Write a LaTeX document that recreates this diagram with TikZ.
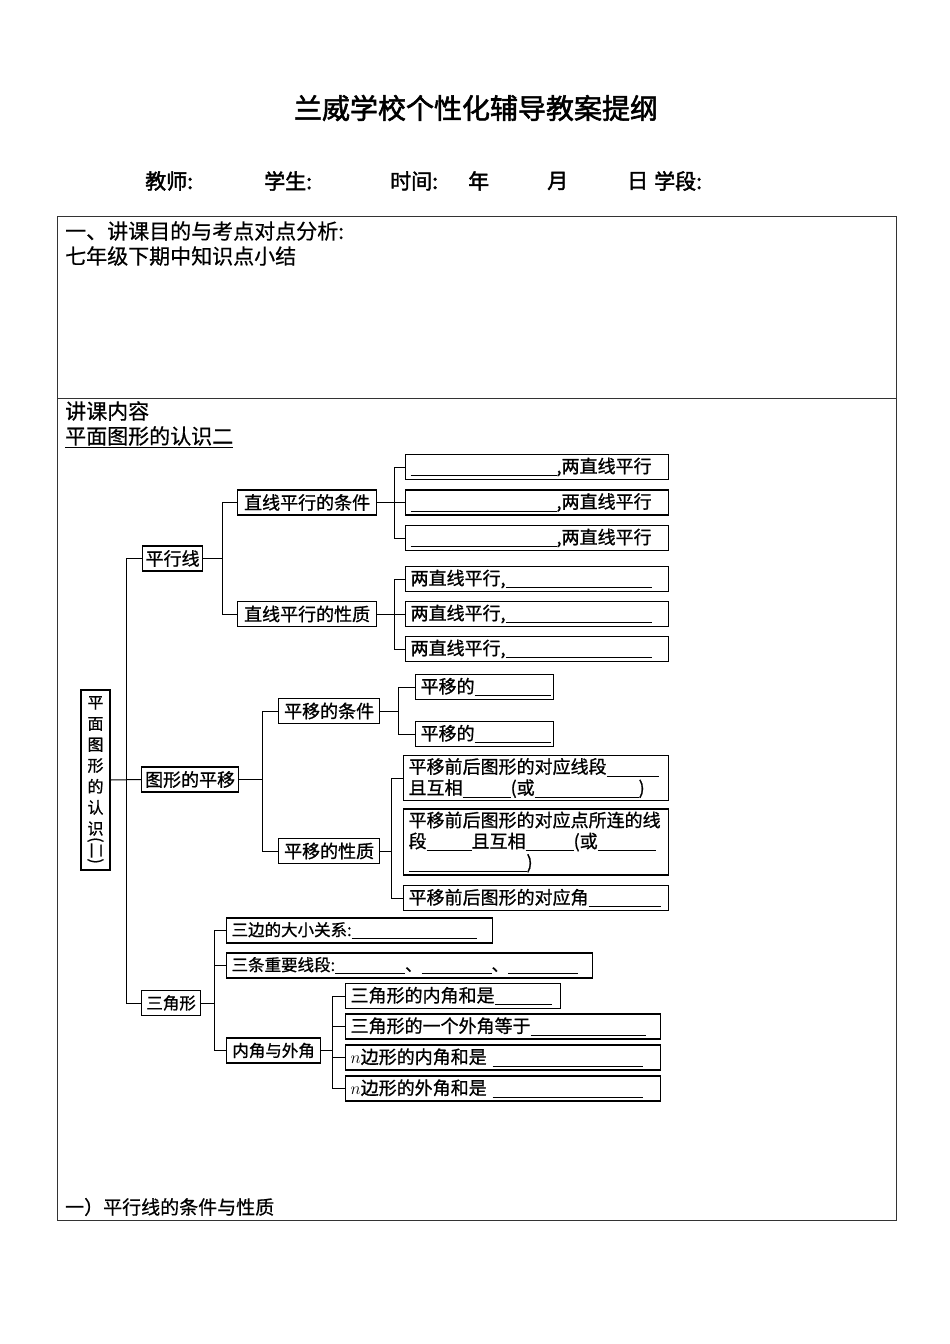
\documentclass[tikz,border=0pt]{standalone}
\usepackage{fontspec}
\setmainfont{Noto Sans CJK SC}[AutoFakeBold=2]
\newfontfamily\treefont{Noto Sans CJK SC}[FakeBold=1]
\newfontfamily\bodyfont{Noto Sans CJK SC}[FakeBold=0.6]
\usepackage{graphicx}
\usetikzlibrary{positioning}
\newcommand{\blank}[1]{\rule[-3pt]{#1}{0.8pt}}
\tikzset{
  tline/.style={line width=1pt},
  frame/.style={draw=black!80, line width=1pt},
  box/.style={draw, line width=1.2pt, anchor=west, inner xsep=5pt, inner ysep=1pt,
    minimum height=25pt, align=left, font=\treefont\fontsize{18}{21}\selectfont},
  sbox/.style={box, font=\treefont\fontsize{16.5}{20}\selectfont},
  txt/.style={anchor=west, inner sep=0pt, font=\bodyfont\fontsize{21}{24}\selectfont},
  head/.style={anchor=west, inner sep=0pt, font=\bfseries\fontsize{21}{24}\selectfont},
}
\begin{document}
\begin{tikzpicture}[x=1pt, y=-1pt]
\useasboundingbox (0,0) rectangle (950,1344);
% heading
\node[font=\bfseries\fontsize{28}{30}\selectfont] (title) at (476,108) {兰威学校个性化辅导教案提纲};
\node[head] (hT) at (145,181) {教师:};
\node[head] (hS) at (264,181) {学生:};
\node[head] (hD) at (390,181) {时间:};
\node[head] (hY) at (468,181) {年};
\node[head] (hM) at (547,181) {月};
\node[head] (hR) at (627,181) {日};
\node[head] (hP) at (654,181) {学段:};
% table
\draw[frame] (57,216) rectangle (896,1220);
\draw[frame] (57,398) -- (896,398);
\node[txt] (aim) at (65,231) {一、讲课目的与考点对点分析:};
\node[txt] (sum) at (65,256) {七年级下期中知识点小结};
\node[txt] (cnt) at (65,411) {讲课内容};
\node[txt] (sub) at (65,437) {\underline{平面图形的认识二}};
\node[txt, font=\bodyfont\fontsize{19}{22}\selectfont] (sec) at (65,1207) {一）平行线的条件与性质};
% tree
\node[draw, line width=1.2pt, minimum width=29pt, minimum height=180pt, inner sep=0pt,
  align=center, font=\treefont\fontsize{16}{21}\selectfont] (root) at (95.5,780)
  {平\\面\\图\\形\\的\\认\\识\\\rotatebox[origin=c]{-90}{(二)}};
\node[box, minimum width=60pt, inner xsep=2pt, align=center] (pxl) at (142,558.5) {平行线};
\node[box, minimum width=139pt, inner xsep=3pt, align=center] (tj) at (237,502.5) {直线平行的条件};
\node[box, minimum width=139pt, inner xsep=3pt, align=center] (tx) at (237,614) {直线平行的性质};
\node[box, text width=253pt] (tj1) at (405,467) {\blank{146pt},两直线平行};
\node[box, text width=253pt] (tj2) at (405,502.5) {\blank{146pt},两直线平行};
\node[box, text width=253pt] (tj3) at (405,538) {\blank{146pt},两直线平行};
\node[box, text width=253pt] (tx1) at (405,579) {两直线平行,\blank{146pt}};
\node[box, text width=253pt] (tx2) at (405,614) {两直线平行,\blank{146pt}};
\node[box, text width=253pt] (tx3) at (405,649) {两直线平行,\blank{146pt}};

\node[box, minimum width=97pt, inner xsep=3pt, align=center] (py) at (141,779.5) {图形的平移};
\node[box, minimum width=101pt, inner xsep=4pt, align=center] (pt) at (278,711) {平移的条件};
\node[box, minimum width=101pt, inner xsep=4pt, align=center] (pp) at (278,851) {平移的性质};
\node[box, text width=128pt] (pt1) at (415,687) {平移的\blank{76pt}};
\node[box, text width=128pt] (pt2) at (415,734) {平移的\blank{76pt}};
\node[box, text width=255pt, minimum height=45pt] (pp1) at (403,778)
  {平移前后图形的对应线段\blank{52pt}\\且互相\blank{48pt}(或\blank{104pt})};
\node[box, text width=255pt, minimum height=66pt] (pp2) at (403,842)
  {平移前后图形的对应点所连的线\\段\blank{45pt}且互相\blank{48pt}(或\blank{58pt}\\\blank{118pt})};
\node[box, text width=255pt] (pp3) at (403,898) {平移前后图形的对应角\blank{72pt}};

\node[sbox, minimum width=59pt, inner xsep=2pt, align=center] (sj) at (141,1003) {三角形};
\node[sbox, text width=256pt] (sj1) at (226,930.5) {三边的大小关系:\blank{125pt}};
\node[sbox, text width=356pt] (sj2) at (226,965.5) {三条重要线段:\blank{70pt}、\blank{70pt}、\blank{70pt}};
\node[sbox, minimum width=94pt, inner xsep=3pt, align=center] (sj3) at (226,1050.5) {内角与外角};
\node[box, text width=205pt] (sk1) at (345,996) {三角形的内角和是\blank{57pt}};
\node[box, text width=305pt] (sk2) at (345,1026.5) {三角形的一个外角等于\blank{115pt}};
\node[box, text width=305pt] (sk3) at (345,1057.5) {$n$边形的内角和是 \blank{150pt}};
\node[box, text width=305pt] (sk4) at (345,1088.5) {$n$边形的外角和是 \blank{150pt}};

% spines
\coordinate (vT) at (126,0);
\coordinate (vA) at (222,0);
\coordinate (vB) at (394,0);
\coordinate (vC) at (394,0);
\coordinate (vH) at (262,0);
\coordinate (vD) at (398,0);
\coordinate (vE) at (391,0);
\coordinate (vF) at (214,0);
\coordinate (vG) at (332,0);

\draw[tline] (pxl.west) -| (vT |- sj.west) -- (sj.west);
\draw[tline] (root.east) -- (py.west);

\draw[tline] (tj.west) -| (vA |- tx.west) -- (tx.west);
\draw[tline] (pxl.east) -- (pxl.east -| vA);
\draw[tline] (tj1.west) -| (vB |- tj3.west) -- (tj3.west);
\draw[tline] (tj.east) -- (tj2.west);
\draw[tline] (tx1.west) -| (vC |- tx3.west) -- (tx3.west);
\draw[tline] (tx.east) -- (tx2.west);

\draw[tline] (pt.west) -| (vH |- pp.west) -- (pp.west);
\draw[tline] (py.east) -- (py.east -| vH);
\draw[tline] (pt1.west) -| (vD |- pt2.west) -- (pt2.west);
\draw[tline] (pt.east) -- (pt.east -| vD);
\draw[tline] (pp1.west) -| (vE |- pp3.west) -- (pp3.west);
\draw[tline] (pp.east) -- (pp.east -| vE);

\draw[tline] (sj1.west) -| (vF |- sj3.west) -- (sj3.west);
\draw[tline] (sj2.west) -- (sj2.west -| vF);
\draw[tline] (sj.east) -- (sj.east -| vF);
\draw[tline] (sk1.west) -| (vG |- sk4.west) -- (sk4.west);
\draw[tline] (sk2.west) -- (sk2.west -| vG);
\draw[tline] (sk3.west) -- (sk3.west -| vG);
\draw[tline] (sj3.east) -- (sj3.east -| vG);
\end{tikzpicture}
\end{document}
